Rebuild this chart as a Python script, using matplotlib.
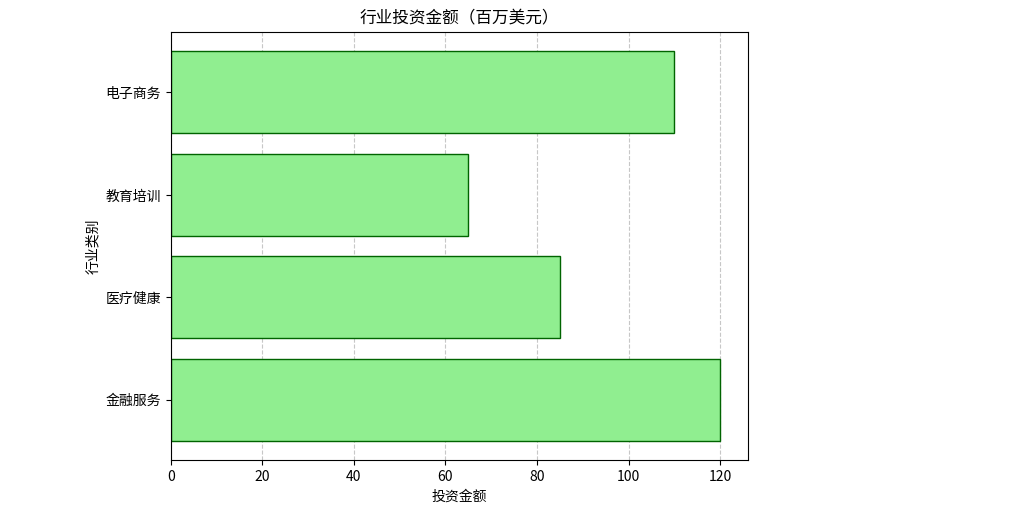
import matplotlib
matplotlib.use("Agg")
import matplotlib.pyplot as plt

plt.rcParams['font.family'] = ['Noto Sans CJK SC', 'DejaVu Sans']
plt.rcParams['axes.unicode_minus'] = False

# 数据
industries = ['金融服务', '医疗健康', '教育培训', '电子商务']
amounts = [120, 85, 65, 110]

fig = plt.figure(figsize=(10.16, 5.16), dpi=100)
ax = fig.add_axes([0.168, 0.108, 0.568, 0.83])

ax.barh(industries, amounts, color='lightgreen', edgecolor='darkgreen')
ax.set_title('行业投资金额（百万美元）', fontsize=12)
ax.set_xlabel('投资金额', fontsize=10)
ax.set_ylabel('行业类别', fontsize=10)
ax.grid(axis='x', linestyle='--', alpha=0.7)
ax.set_axisbelow(True)

fig.savefig('out.png', dpi=100)
